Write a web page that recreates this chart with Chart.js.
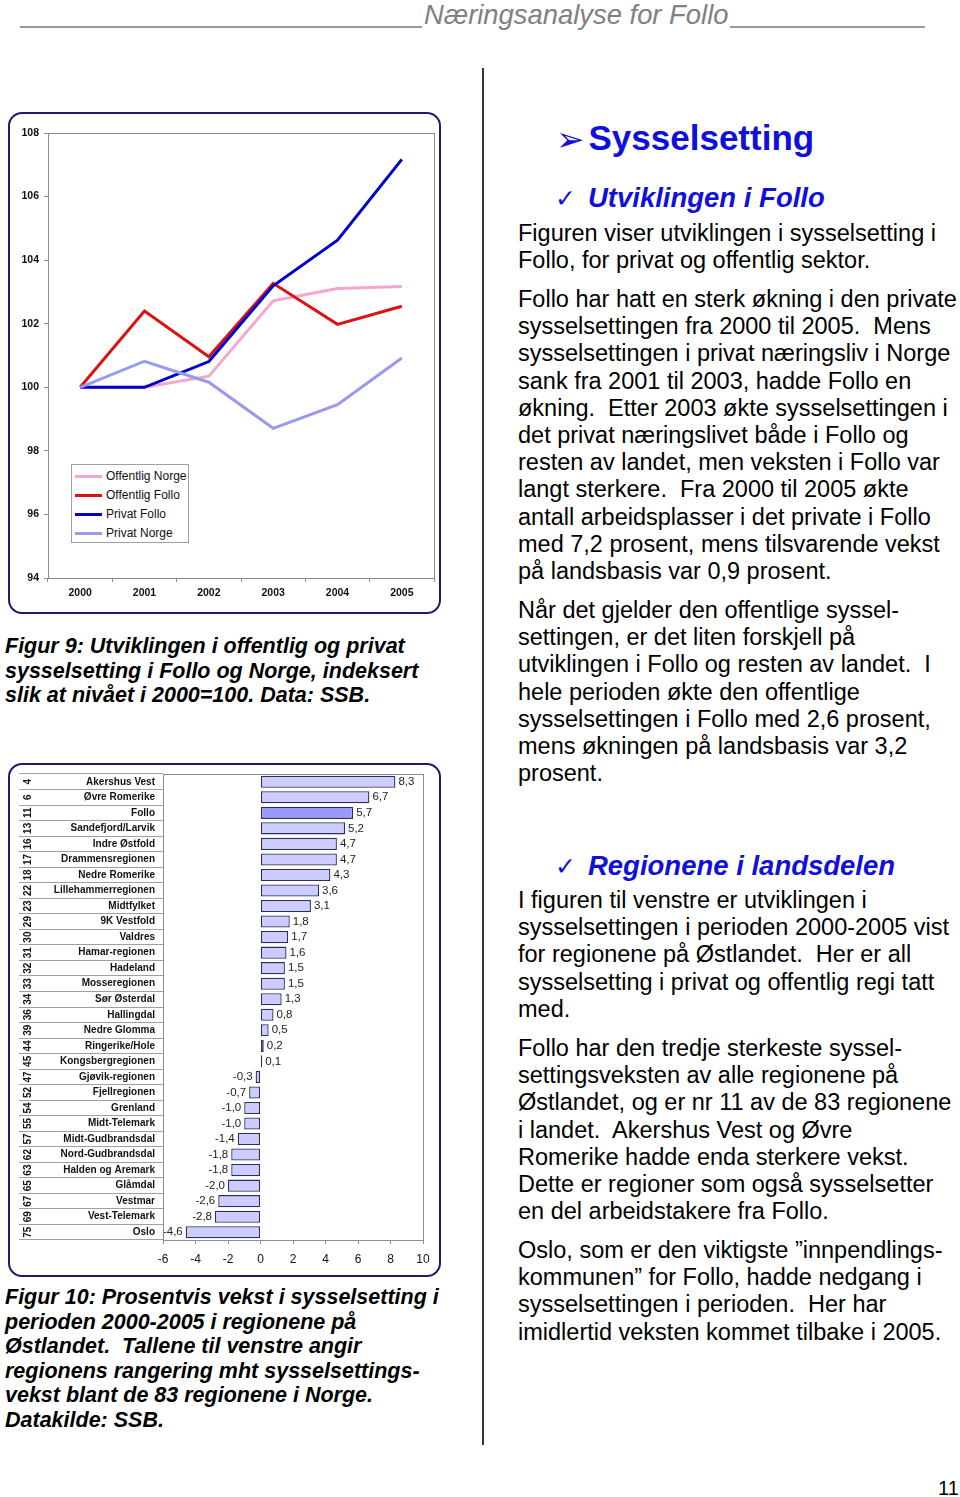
<!DOCTYPE html>
<html>
<head>
<meta charset="utf-8">
<script src="https://cdn.jsdelivr.net/npm/chart.js@4.4.0/dist/chart.umd.min.js"></script>
<style>
  body { margin: 0; width: 960px; height: 1497px; position: relative; background: #fff;
         font-family: "Liberation Sans", Arial, sans-serif; color: #000; overflow: hidden; }
  .abs { position: absolute; }
  .box { position: absolute; box-sizing: border-box; border: 2px solid #1c1c6e; border-radius: 14px; }
  .head { left: 424px; top: 1px; font-size: 27.4px; font-style: italic; color: #808080; line-height: 27px; white-space: nowrap; }
  .rule { height: 1.5px; background: #999; top: 26px; }
  .caption { left: 5px; font-size: 21.5px; font-weight: bold; font-style: italic; line-height: 24.6px; white-space: pre; }
  .txt { left: 518px; font-size: 23.5px; line-height: 27.2px; white-space: pre; }
  .h1 { left: 556px; font-size: 35px; font-weight: bold; color: #1010dc; line-height: 40px; white-space: nowrap; }
  .h2 { left: 555px; font-size: 27.5px; font-weight: bold; font-style: italic; color: #1010dc; line-height: 32px; white-space: nowrap; }
  .sym { font-family: "DejaVu Sans", sans-serif; font-style: normal; font-weight: normal; display: inline-block; }
  #legend { position: absolute; left: 71px; top: 464px; width: 118px; height: 79px; box-sizing: border-box;
            border: 1px solid #a0a0a0; background: #fff; font-size: 12px; color: #111; }
  #legend .row { position: absolute; left: 3px; height: 19px; line-height: 19px; white-space: nowrap; }
  #legend .swatch { display: inline-block; width: 27px; height: 3px; vertical-align: middle; margin-right: 4px; }
</style>
</head>
<body>

<div class="abs rule" style="left:20px; width:402px;"></div>
<div class="abs rule" style="left:730px; width:195px;"></div>
<div class="abs head">Næringsanalyse for Follo</div>

<div class="abs" style="left:482px; top:68px; width:2px; height:1377px; background:#333;"></div>

<div class="box" style="left:8px; top:112px; width:433px; height:502px;"></div>
<canvas id="lineChart" class="abs" style="left:12px; top:116px;" width="426" height="495"></canvas>
<div id="legend"></div>

<div class="abs caption" style="top:634px;">Figur 9: Utviklingen i offentlig og privat<br>sysselsetting i Follo og Norge, indeksert<br>slik at nivået i 2000=100. Data: SSB.</div>

<div class="box" style="left:8px; top:763px; width:433px; height:514px;"></div>
<canvas id="barChart" class="abs" style="left:12px; top:767px;" width="426" height="507"></canvas>

<div class="abs caption" style="top:1285px;">Figur 10: Prosentvis vekst i sysselsetting i<br>perioden 2000-2005 i regionene på<br>Østlandet.  Tallene til venstre angir<br>regionens rangering mht sysselsettings-<br>vekst blant de 83 regionene i Norge.<br>Datakilde: SSB.</div>

<div class="abs h1" style="top:118px;"><span class="sym" style="font-size:34px; line-height:30px; margin-right:4px; vertical-align:-1px;">➢</span>Sysselsetting</div>
<div class="abs h2" style="top:182px;"><span class="sym" style="font-size:25px; line-height:28px; margin-right:12px;">✓</span>Utviklingen i Follo</div>

<div class="abs txt" style="top:220px;">Figuren viser utviklingen i sysselsetting i<br>Follo, for privat og offentlig sektor.</div>
<div class="abs txt" style="top:286px;">Follo har hatt en sterk økning i den private<br>sysselsettingen fra 2000 til 2005.  Mens<br>sysselsettingen i privat næringsliv i Norge<br>sank fra 2001 til 2003, hadde Follo en<br>økning.  Etter 2003 økte sysselsettingen i<br>det privat næringslivet både i Follo og<br>resten av landet, men veksten i Follo var<br>langt sterkere.  Fra 2000 til 2005 økte<br>antall arbeidsplasser i det private i Follo<br>med 7,2 prosent, mens tilsvarende vekst<br>på landsbasis var 0,9 prosent.</div>
<div class="abs txt" style="top:597px;">Når det gjelder den offentlige syssel-<br>settingen, er det liten forskjell på<br>utviklingen i Follo og resten av landet.  I<br>hele perioden økte den offentlige<br>sysselsettingen i Follo med 2,6 prosent,<br>mens økningen på landsbasis var 3,2<br>prosent.</div>

<div class="abs h2" style="top:850px;"><span class="sym" style="font-size:25px; line-height:28px; margin-right:12px;">✓</span>Regionene i landsdelen</div>

<div class="abs txt" style="top:887px;">I figuren til venstre er utviklingen i<br>sysselsettingen i perioden 2000-2005 vist<br>for regionene på Østlandet.  Her er all<br>sysselsetting i privat og offentlig regi tatt<br>med.</div>
<div class="abs txt" style="top:1035px;">Follo har den tredje sterkeste syssel-<br>settingsveksten av alle regionene på<br>Østlandet, og er nr 11 av de 83 regionene<br>i landet.  Akershus Vest og Øvre<br>Romerike hadde enda sterkere vekst.<br>Dette er regioner som også sysselsetter<br>en del arbeidstakere fra Follo.</div>
<div class="abs txt" style="top:1237px;">Oslo, som er den viktigste ”innpendlings-<br>kommunen” for Follo, hadde nedgang i<br>sysselsettingen i perioden.  Her har<br>imidlertid veksten kommet tilbake i 2005.</div>

<div class="abs" style="left:938px; top:1477px; font-size:20px; line-height:22px;">11</div>

<script>
// Figur 9 - indeks 2000=100
const years = ['2000', '2001', '2002', '2003', '2004', '2005'];
const offentligNorge = [100, 100.0, 100.35, 102.72, 103.11, 103.17];
const offentligFollo = [100, 102.40, 100.96, 103.27, 101.98, 102.55];
const privatFollo = [100, 100.0, 100.81, 103.19, 104.63, 107.17];
const privatNorge = [100, 100.82, 100.16, 98.71, 99.45, 100.92];
const seriesNames = ['Offentlig Norge', 'Offentlig Follo', 'Privat Follo', 'Privat Norge'];
const seriesColors = ['#f4a6cf', '#dd1111', '#0000cc', '#9999ee'];

// Figur 10 - vekst 2000-2005 i prosent
const regions = ['Akershus Vest', 'Øvre Romerike', 'Follo', 'Sandefjord/Larvik', 'Indre Østfold',
  'Drammensregionen', 'Nedre Romerike', 'Lillehammerregionen', 'Midtfylket', '9K Vestfold',
  'Valdres', 'Hamar-regionen', 'Hadeland', 'Mosseregionen', 'Sør Østerdal',
  'Hallingdal', 'Nedre Glomma', 'Ringerike/Hole', 'Kongsbergregionen', 'Gjøvik-regionen',
  'Fjellregionen', 'Grenland', 'Midt-Telemark', 'Midt-Gudbrandsdal', 'Nord-Gudbrandsdal',
  'Halden og Aremark', 'Glåmdal', 'Vestmar', 'Vest-Telemark', 'Oslo'];
const ranks = [4, 6, 11, 13, 16, 17, 18, 22, 23, 29, 30, 31, 32, 33, 34,
  36, 39, 44, 45, 47, 52, 54, 55, 57, 62, 63, 65, 67, 69, 75];
const growth = [8.3, 6.7, 5.7, 5.2, 4.7, 4.7, 4.3, 3.6, 3.1, 1.8, 1.7, 1.6, 1.5, 1.5, 1.3,
  0.8, 0.5, 0.2, 0.1, -0.3, -0.7, -1.0, -1.0, -1.4, -1.8, -1.8, -2.0, -2.6, -2.8, -4.6];
const highlight = 'Follo';

const FONT = '"Liberation Sans", Arial, sans-serif';

// grey frame round the plot area
const frame = {
  id: 'frame',
  afterDraw(chart) {
    const a = chart.chartArea, ctx = chart.ctx;
    ctx.save();
    ctx.strokeStyle = '#8c8c8c';
    ctx.lineWidth = 1;
    ctx.strokeRect(Math.round(a.left) + 0.5, Math.round(a.top) + 0.5,
      Math.round(a.right - a.left), Math.round(a.bottom - a.top));
    ctx.restore();
  }
};

// legend in html, same look as the excel one
const legendBox = document.getElementById('legend');
seriesNames.forEach((name, i) => {
  const row = document.createElement('div');
  row.className = 'row';
  row.style.top = (2 + i * 19) + 'px';
  row.innerHTML = '<span class="swatch" style="background:' + seriesColors[i] + '"></span>' + name;
  legendBox.appendChild(row);
});

const lineSeries = [offentligNorge, offentligFollo, privatFollo, privatNorge];

new Chart(document.getElementById('lineChart'), {
  type: 'line',
  data: {
    labels: years,
    datasets: lineSeries.map((d, i) => ({
      label: seriesNames[i],
      data: d,
      borderColor: seriesColors[i],
      borderWidth: 3,
      pointRadius: 0,
      tension: 0,
      fill: false,
      order: 4 - i
    }))
  },
  options: {
    responsive: false,
    animation: false,
    layout: { padding: { top: 17, right: 4, left: 0, bottom: 0 } },
    plugins: { legend: { display: false }, tooltip: { enabled: false } },
    scales: {
      x: {
        offset: true,
        grid: { offset: true, drawOnChartArea: false, tickLength: 4, color: '#8c8c8c' },
        border: { color: '#8c8c8c' },
        ticks: { font: { family: FONT, size: 10.5, weight: 'bold' }, color: '#111', padding: 5 },
        afterFit: s => { s.height = 33; }
      },
      y: {
        min: 94, max: 108,
        ticks: { stepSize: 2, font: { family: FONT, size: 10.5, weight: 'bold' }, color: '#111', padding: 5 },
        grid: { drawOnChartArea: false, tickLength: 4, color: '#8c8c8c' },
        border: { color: '#8c8c8c' },
        afterFit: s => { s.width = 36; }
      }
    }
  },
  plugins: [frame]
});

// value labels at the bar ends and rank numbers in the first column
const barLabels = {
  id: 'barLabels',
  afterDatasetsDraw(chart) {
    const ctx = chart.ctx;
    const meta = chart.getDatasetMeta(0);
    ctx.save();
    ctx.font = '11.5px ' + FONT;
    ctx.fillStyle = '#222';
    ctx.textBaseline = 'middle';
    meta.data.forEach((bar, i) => {
      const v = growth[i];
      ctx.textAlign = v >= 0 ? 'left' : 'right';
      ctx.fillText(v.toFixed(1).replace('.', ','), v >= 0 ? bar.x + 3 : bar.x - 3, bar.y);
    });
    const ys = chart.scales.y;
    ctx.font = 'bold 10px ' + FONT;
    ctx.fillStyle = '#111';
    ctx.textAlign = 'center';
    ranks.forEach((r, i) => {
      ctx.save();
      ctx.translate(ys.left + 16, ys.getPixelForTick(i));
      ctx.rotate(-Math.PI / 2);
      ctx.fillText(String(r), 0, 0);
      ctx.restore();
    });
    ctx.restore();
  }
};

new Chart(document.getElementById('barChart'), {
  type: 'bar',
  data: {
    labels: regions,
    datasets: [{
      data: growth,
      backgroundColor: regions.map(r => r === highlight ? '#9999ff' : '#ccccff'),
      borderColor: '#2e2e5e',
      borderWidth: 1.3,
      borderSkipped: false,
      categoryPercentage: 1,
      barPercentage: 0.78
    }]
  },
  options: {
    indexAxis: 'y',
    responsive: false,
    animation: false,
    layout: { padding: { top: 7, right: 15, left: 0, bottom: 0 } },
    plugins: { legend: { display: false }, tooltip: { enabled: false } },
    scales: {
      x: {
        min: -6, max: 10,
        ticks: { stepSize: 2, font: { family: FONT, size: 12 }, color: '#111', padding: 8 },
        grid: { drawOnChartArea: false, tickLength: 4, color: '#8c8c8c' },
        border: { color: '#8c8c8c' },
        afterFit: s => { s.height = 34; }
      },
      y: {
        grid: { offset: true, drawOnChartArea: false, tickLength: 144, color: '#a0a0a0' },
        border: { color: '#8c8c8c' },
        ticks: { font: { family: FONT, size: 10, weight: 'bold' }, color: '#111', padding: -136, autoSkip: false },
        afterFit: s => { s.width = 151; }
      }
    }
  },
  plugins: [frame, barLabels]
});
</script>
</body>
</html>
